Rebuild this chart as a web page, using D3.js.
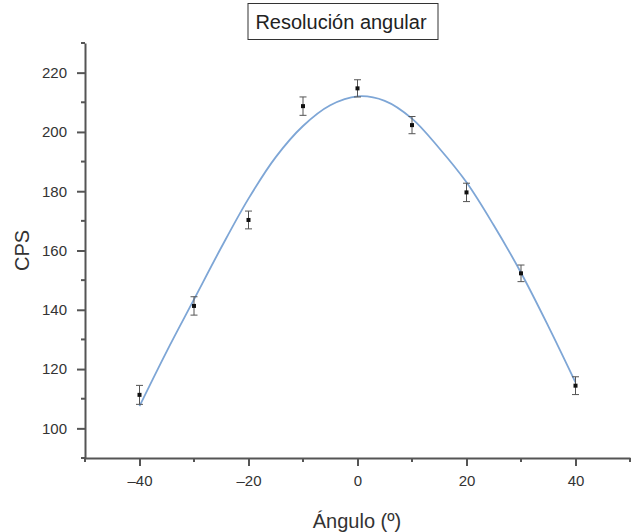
<!DOCTYPE html>
<html>
<head>
<meta charset="utf-8">
<script src="https://cdn.jsdelivr.net/npm/d3@7"></script>
<style>
  body { margin: 0; background: #fff; }
  text { font-family: "Liberation Sans", Arial, sans-serif; }
</style>
</head>
<body>
<div id="chart"></div>
<script>
// measured points (angle, CPS, error)
const angles = [-40, -30, -20, -10, 0, 10, 20, 30, 40];
const cps = [111.3, 141.3, 170.3, 208.7, 214.7, 202.3, 179.6, 152.3, 114.4];
const cpsErr = [3.2, 3.1, 3.0, 3.1, 2.9, 2.9, 3.1, 2.8, 3.0];

// fitted curve
const fitAngles = [-40, -35, -30, -25, -20, -15, -10, -5, 0, 5, 10, 15, 20, 25, 30, 35, 40];
const fitCps = [107.5, 126, 143.5, 161, 177.5, 191.5, 202, 209, 212, 210.5, 204.5, 194.5, 183, 168.5, 152.5, 134.5, 115.5];

const xTicks = [-40, -20, 0, 20, 40];
const yTicks = [100, 120, 140, 160, 180, 200, 220];

const W = 635, H = 532;
const mLeft = 85, mRight = 630, mTop = 43, mBottom = 458;

const svg = d3.select("#chart").append("svg")
    .attr("width", W)
    .attr("height", H);

const x = d3.scaleLinear().domain([-50, 50]).range([mLeft, mRight]);
const y = d3.scaleLinear().domain([90, 230]).range([mBottom, mTop]);

// title in a box
svg.append("rect")
    .attr("x", 248).attr("y", 3.5)
    .attr("width", 190).attr("height", 36)
    .attr("fill", "none").attr("stroke", "#333").attr("stroke-width", 1);
svg.append("text")
    .attr("x", 341).attr("y", 29)
    .attr("text-anchor", "middle")
    .style("font-size", "20px")
    .attr("fill", "#222")
    .text("Resolución angular");

// axes
const fmt = d => d < 0 ? "\u2013" + Math.abs(d) : String(d);

const xAxis = svg.append("g")
    .attr("transform", "translate(0," + mBottom + ")")
    .call(d3.axisBottom(x).tickValues(xTicks).tickFormat(fmt).tickSize(8).tickSizeOuter(0).tickPadding(9));
xAxis.append("g").selectAll("line")
    .data([-50, -30, -10, 10, 30, 50])
    .enter().append("line")
    .attr("x1", d => x(d)).attr("x2", d => x(d))
    .attr("y1", 0).attr("y2", 4);

const yAxis = svg.append("g")
    .attr("transform", "translate(" + mLeft + ",0)")
    .call(d3.axisLeft(y).tickValues(yTicks).tickSize(8).tickSizeOuter(0).tickPadding(10));
yAxis.append("g").selectAll("line")
    .data([90, 110, 130, 150, 170, 190, 210, 230])
    .enter().append("line")
    .attr("y1", d => y(d)).attr("y2", d => y(d))
    .attr("x1", 0).attr("x2", -4);

svg.selectAll(".domain").attr("stroke", "#555").attr("stroke-width", 2);
svg.selectAll(".tick line").attr("stroke", "#555").attr("stroke-width", 2);
xAxis.selectAll("g > line").attr("stroke", "#555").attr("stroke-width", 2);
yAxis.selectAll("g > line").attr("stroke", "#555").attr("stroke-width", 2);
svg.selectAll(".tick text").style("font-size", "15px").attr("fill", "#333");

// axis titles
svg.append("text")
    .attr("x", 357).attr("y", 528)
    .attr("text-anchor", "middle")
    .style("font-size", "20px")
    .attr("fill", "#333")
    .text("Ángulo (º)");
svg.append("text")
    .attr("transform", "translate(29," + y(160) + ") rotate(-90)")
    .attr("text-anchor", "middle")
    .style("font-size", "20px")
    .attr("fill", "#333")
    .text("CPS");

// fitted curve
const line = d3.line()
    .x((d, i) => x(fitAngles[i]))
    .y(d => y(d))
    .curve(d3.curveCatmullRom);
svg.append("path")
    .datum(fitCps)
    .attr("d", line)
    .attr("fill", "none")
    .attr("stroke", "#7ea6d6")
    .attr("stroke-width", 1.8);

// error bars and points
const pts = angles.map((a, i) => ({a: a, v: cps[i], e: cpsErr[i]}));
const eb = svg.append("g").attr("stroke", "#555").attr("stroke-width", 1);
eb.selectAll(".v").data(pts).enter().append("line")
    .attr("x1", d => x(d.a)).attr("x2", d => x(d.a))
    .attr("y1", d => y(d.v - d.e)).attr("y2", d => y(d.v + d.e));
eb.selectAll(".t").data(pts).enter().append("line")
    .attr("x1", d => x(d.a) - 3.5).attr("x2", d => x(d.a) + 3.5)
    .attr("y1", d => y(d.v + d.e)).attr("y2", d => y(d.v + d.e));
eb.selectAll(".b").data(pts).enter().append("line")
    .attr("x1", d => x(d.a) - 3.5).attr("x2", d => x(d.a) + 3.5)
    .attr("y1", d => y(d.v - d.e)).attr("y2", d => y(d.v - d.e));

svg.append("g").selectAll("rect")
    .data(pts).enter().append("rect")
    .attr("x", d => x(d.a) - 2).attr("y", d => y(d.v) - 2)
    .attr("width", 4).attr("height", 4)
    .attr("fill", "#111");
</script>
</body>
</html>
